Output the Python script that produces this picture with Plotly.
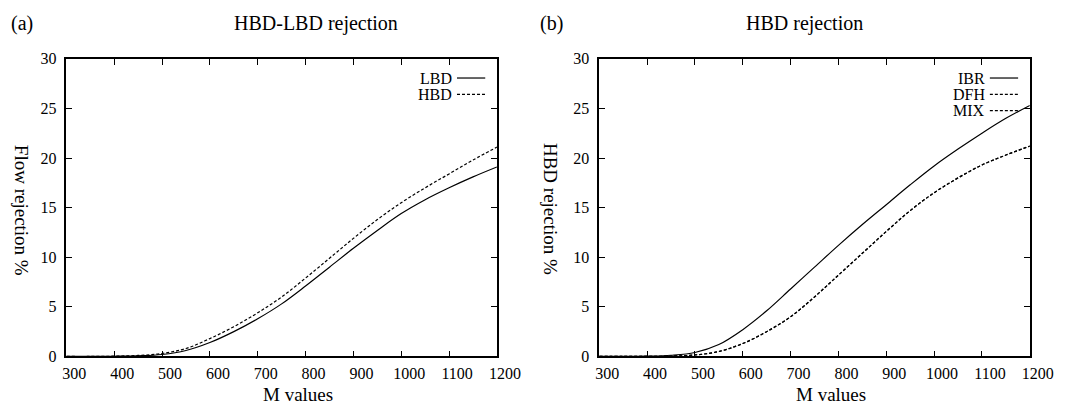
import plotly.graph_objects as go

# ---------------- data ----------------
m_values = [300, 350, 400, 450, 500, 550, 600, 650, 700, 750, 800, 850, 900, 950, 1000, 1050, 1100, 1150, 1200]

lbd = [0, 0, 0.02, 0.07, 0.2, 0.6, 1.4, 2.5, 3.8, 5.3, 7.1, 9.0, 10.9, 12.7, 14.4, 15.8, 17.0, 18.1, 19.1]
hbd = [0, 0, 0.03, 0.1, 0.3, 0.8, 1.8, 3.0, 4.4, 6.0, 7.9, 9.9, 11.9, 13.8, 15.5, 17.0, 18.4, 19.8, 21.1]

ibr = [0, 0, 0.03, 0.12, 0.4, 1.2, 2.7, 4.6, 6.8, 9.0, 11.2, 13.3, 15.3, 17.3, 19.2, 20.9, 22.5, 24.0, 25.3]
dfh = [0, 0, 0.01, 0.04, 0.15, 0.5, 1.3, 2.5, 4.0, 6.0, 8.2, 10.4, 12.6, 14.7, 16.5, 18.0, 19.3, 20.3, 21.2]
mix = [0, 0, 0.01, 0.04, 0.15, 0.5, 1.3, 2.5, 4.0, 6.0, 8.2, 10.4, 12.6, 14.7, 16.5, 18.0, 19.3, 20.3, 21.2]

x_ticks = [300, 400, 500, 600, 700, 800, 900, 1000, 1100, 1200]
y_ticks = [0, 5, 10, 15, 20, 25, 30]

# ---------------- layout helpers ----------------
W, H = 1084, 416
FONT = "'Liberation Serif', 'Times New Roman', Times, 'DejaVu Serif', serif"
DASH = "3px,2px"

def px_x(p):
    return p / W

def px_y(p):
    return 1 - p / H

left_dom = [px_x(64), px_x(506)]
right_dom = [px_x(611), px_x(1053)]
y_dom = [px_y(363.3), px_y(53)]

fig = go.Figure()

line_solid = dict(color="black", width=1.2, shape="spline")
line_dash = dict(color="black", width=1.2, dash=DASH, shape="spline")

fig.add_trace(go.Scatter(x=m_values, y=lbd, mode="lines", line=line_solid, name="LBD", xaxis="x", yaxis="y"))
fig.add_trace(go.Scatter(x=m_values, y=hbd, mode="lines", line=line_dash, name="HBD", xaxis="x", yaxis="y"))
fig.add_trace(go.Scatter(x=m_values, y=ibr, mode="lines", line=line_solid, name="IBR", xaxis="x2", yaxis="y2"))
fig.add_trace(go.Scatter(x=m_values, y=dfh, mode="lines", line=line_dash, name="DFH", xaxis="x2", yaxis="y2"))
fig.add_trace(go.Scatter(x=m_values, y=mix, mode="lines", line=line_dash, name="MIX", xaxis="x2", yaxis="y2"))

axis_common = dict(
    showline=True, linecolor="black", linewidth=1.5, mirror="ticks",
    ticks="inside", ticklen=6, tickwidth=1, tickcolor="black",
    showgrid=False, zeroline=False,
    tickfont=dict(family=FONT, size=16, color="black"),
)
x_extra = dict(ticklabelshift=8, ticklabelstandoff=2)
y_extra = dict(ticklabelstandoff=5)

fig.update_layout(
    width=W, height=H,
    margin=dict(l=0, r=0, t=0, b=0),
    paper_bgcolor="white", plot_bgcolor="white",
    showlegend=False,
    font=dict(family=FONT, color="black"),
    xaxis=dict(domain=left_dom, range=[300, 1200], tickvals=x_ticks, anchor="y", **axis_common, **x_extra),
    yaxis=dict(domain=y_dom, range=[0, 30], tickvals=y_ticks, anchor="x", **axis_common, **y_extra),
    xaxis2=dict(domain=right_dom, range=[300, 1200], tickvals=x_ticks, anchor="y2", **axis_common, **x_extra),
    yaxis2=dict(domain=y_dom, range=[0, 30], tickvals=y_ticks, anchor="x2", **axis_common, **y_extra),
)

ann = []
def text(x, y, s, size=16, xanchor="center", angle=0):
    ann.append(dict(x=px_x(x), y=px_y(y), xref="paper", yref="paper", text=s, showarrow=False,
                    xanchor=xanchor, yanchor="middle", textangle=angle,
                    font=dict(family=FONT, size=size, color="black")))

text(18, 16, "(a)", 20)
text(320, 16, "HBD-LBD rejection", 20)
text(562, 16, "(b)", 20)
text(822, 16, "HBD rejection", 20)
text(302, 403, "M values", 19)
text(849, 403, "M values", 19)
text(18, 211, "Flow rejection %", 19, angle=90)
text(561, 209, "HBD rejection %", 19, angle=90)

# custom gnuplot-style legends: label then line sample
legend_left = [("LBD", "solid"), ("HBD", DASH)]
legend_right = [("IBR", "solid"), ("DFH", DASH), ("MIX", DASH)]
shapes = []
def legend(entries, text_right, x0, x1, y0, dy):
    for i, (lab, d) in enumerate(entries):
        yy = y0 + i * dy
        text(text_right, yy, lab, 16, "right")
        shapes.append(dict(type="line", xref="paper", yref="paper",
                           x0=px_x(x0), x1=px_x(x1), y0=px_y(yy), y1=px_y(yy),
                           line=dict(color="black", width=1.2, dash=d)))

legend(legend_left, 462, 465, 494, 73, 17)
legend(legend_right, 1009, 1012, 1041, 73, 17)

fig.update_layout(annotations=ann, shapes=shapes)
fig.write_html("out.html")
